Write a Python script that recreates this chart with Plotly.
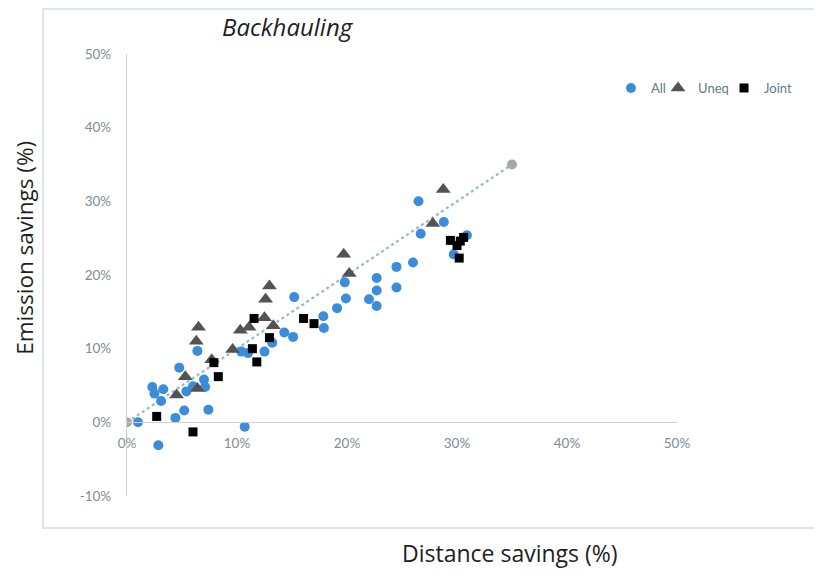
import plotly.graph_objects as go

# ---- data (percent) ----
all_x = [1.0, 2.85, 4.4, 5.2, 7.4, 10.7, 2.3, 2.5, 3.3, 3.1, 4.75, 5.4, 6.0, 7.0, 7.1,
         6.4, 10.4, 11.0, 12.5, 13.2, 14.3, 15.1, 15.2, 17.85, 17.9, 19.1, 19.9, 19.8,
         22.0, 22.7, 22.7, 22.7, 24.5, 24.5, 26.0, 26.7, 28.8, 26.5, 30.9, 29.7]
all_y = [0.0, -3.1, 0.6, 1.6, 1.7, -0.6, 4.8, 3.9, 4.5, 2.9, 7.4, 4.2, 4.9, 5.8, 4.8,
         9.7, 9.6, 9.4, 9.6, 10.8, 12.2, 11.6, 17.0, 14.4, 12.8, 15.5, 16.8, 19.0,
         16.7, 15.8, 17.9, 19.6, 18.3, 21.1, 21.7, 25.6, 27.2, 30.0, 25.4, 22.8]

uneq_x = [4.5, 5.3, 6.4, 6.5, 6.3, 7.7, 9.6, 10.3, 11.1, 12.5, 12.6, 12.95, 13.3,
          19.7, 20.2, 27.8, 28.75]
uneq_y = [3.7, 6.2, 4.6, 12.9, 11.0, 8.5, 9.9, 12.5, 12.9, 14.2, 16.7, 18.5, 13.1,
          22.8, 20.2, 27.0, 31.6]

joint_x = [2.7, 6.0, 7.9, 8.3, 11.4, 11.8, 11.55, 12.95, 16.05, 17.0, 29.4, 30.0,
           30.3, 30.6, 30.2]
joint_y = [0.8, -1.3, 8.1, 6.2, 10.0, 8.2, 14.1, 11.5, 14.1, 13.4, 24.7, 24.0,
           24.6, 25.1, 22.3]

ref_x = [0, 35]
ref_y = [0, 35]

x_tick_vals = [0, 10, 20, 30, 40, 50]
x_tick_text = ["0%", "10%", "20%", "30%", "40%", "50%"]
y_tick_vals = [-10, 0, 10, 20, 30, 40, 50]
y_tick_text = ["-10%", "0%", "10%", "20%", "30%", "40%", "50%"]

FONT = "Lato"
TITLE_FONT = "Open Sans"
TICK_COLOR = "#7d8c96"
LEG_COLOR = "#5f7b89"

fig = go.Figure()

fig.add_trace(go.Scatter(
    x=ref_x, y=ref_y, mode="lines+markers", showlegend=False,
    line=dict(color="#93b9d0", width=2.2, dash="dot"),
    marker=dict(color="#a6a6a6", size=10),
))
fig.add_trace(go.Scatter(
    x=all_x, y=all_y, mode="markers", name="All", legend="legend",
    marker=dict(symbol="circle", color="#3b8ddc", size=10),
))
fig.add_trace(go.Scatter(
    x=uneq_x, y=uneq_y, mode="markers", name="Uneq", legend="legend2",
    marker=dict(symbol="triangle-up", color="#535353", size=13),
))
fig.add_trace(go.Scatter(
    x=joint_x, y=joint_y, mode="markers", name="Joint", legend="legend3",
    marker=dict(symbol="square", color="#000000", size=9),
))

leg_common = dict(orientation="h", y=0.923, xanchor="left", yanchor="middle",
                  font=dict(family=FONT, size=13, color=LEG_COLOR),
                  itemwidth=30, bgcolor="rgba(0,0,0,0)")

fig.update_layout(
    width=814, height=568,
    margin=dict(l=119, r=145, t=46, b=80, autoexpand=False),
    paper_bgcolor="white", plot_bgcolor="white",
    font=dict(family=FONT, color=TICK_COLOR, size=12),
    legend=dict(x=0.880, **leg_common),
    legend2=dict(x=0.9655, **leg_common),
    legend3=dict(x=1.0855, **leg_common),
    xaxis=dict(range=[0, 50], tickvals=x_tick_vals, ticktext=x_tick_text,
               showgrid=False, zeroline=False, showline=True,
               linecolor="#d2d2d2", linewidth=1.2, anchor="free", position=1/6,
               ticks="", ticklabelstandoff=8,
               tickfont=dict(family=FONT, size=13.5, color=TICK_COLOR)),
    yaxis=dict(range=[-10, 50], tickvals=y_tick_vals, ticktext=y_tick_text,
               showgrid=False, zeroline=False, showline=True,
               linecolor="#d2d2d2", linewidth=1.2, ticks="", ticklabelstandoff=12,
               tickfont=dict(family=FONT, size=13.5, color=TICK_COLOR)),
    shapes=[dict(type="rect", xref="paper", yref="paper",
                 x0=-0.1527, x1=1.2545, y0=-0.0724, y1=1.1018,
                 line=dict(color="#d5dbe0", width=1.5), layer="below")],
    annotations=[
        dict(text="<i>Backhauling</i>", xref="paper", yref="paper",
             x=0.2927, y=1.0611, xanchor="center", yanchor="middle", showarrow=False,
             font=dict(family=TITLE_FONT, size=24, color="#1e1e1e")),
        dict(text="Emission savings (%)", xref="paper", yref="paper",
             x=-0.187, y=0.562, xanchor="center", yanchor="middle",
             textangle=-90, showarrow=False,
             font=dict(family=TITLE_FONT, size=22.5, color="#1e1e1e")),
        dict(text="Distance savings (%)", xref="paper", yref="paper",
             x=0.696, y=-0.129, xanchor="center", yanchor="middle", showarrow=False,
             font=dict(family=TITLE_FONT, size=23, color="#1e1e1e")),
    ],
)

fig.write_html("out.html")
